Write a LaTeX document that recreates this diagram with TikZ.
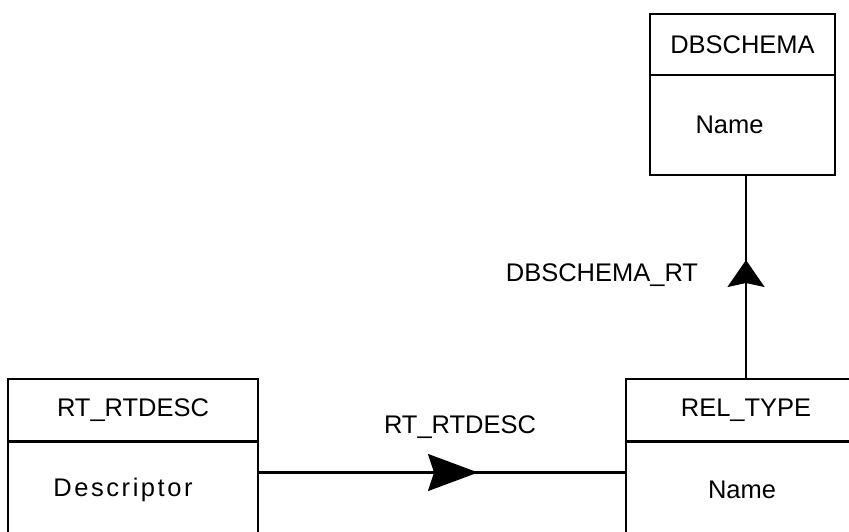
\documentclass[tikz,border=0pt]{standalone}
\usepackage{fontspec}
\setmainfont{Liberation Sans}
\usetikzlibrary{arrows.meta,positioning,calc,decorations.markings}

\begin{document}
\begin{tikzpicture}[
    font=\fontsize{14.5}{17}\selectfont,
    box/.style={draw, line width=1.3pt, inner sep=0pt, outer sep=0pt, minimum width=#1},
    link/.style={line width=1.3pt},
]
    \useasboundingbox (0,0) rectangle (16.98,10.62);
    \clip (0,0) rectangle (16.98,10.62);

    % Schema entity
    \node[box=3.7cm, minimum height=1.22cm] (dbtitle) at (14.85,9.73) {DBSCHEMA};
    \node[box=3.7cm, minimum height=2cm, below=0pt of dbtitle] (dbbody) {};
    \node[xshift=-0.26cm] (dbname) at (dbbody) {Name};

    % Descriptor entity (runs off the bottom)
    \node[box=5cm, minimum height=1.25cm] (desctitle) at (2.66,2.415) {RT\_RTDESC};
    \node[box=5cm, minimum height=1.92cm, below=0pt of desctitle] (descbody) {};
    \node[xshift=-0.2cm] (descname) at (descbody) {\addfontfeature{LetterSpace=10}Descriptor};

    % Relation type entity (runs off the right)
    \node[box=4.8cm, minimum height=1.25cm] (reltitle) at (14.92,2.415) {REL\_TYPE};
    \node[box=4.8cm, minimum height=1.92cm, below=0pt of reltitle] (relbody) {};
    \node[xshift=-0.08cm] (relname) at (relbody) {Name};

    % RT_RTDESC link
    \draw[link, postaction={decorate}, decoration={markings,
        mark=at position 4.4cm with {\arrow{Stealth[length=1cm, width=0.74cm, inset=0.12cm]}}}]
        ($(descbody.north east)+(0,-0.62)$) -- ($(relbody.north west)+(0,-0.62)$);
    \node at (9.2,2.08) {RT\_RTDESC};

    % DBSCHEMA_RT link
    \draw[link, postaction={decorate}, decoration={markings,
        mark=at position 2.38cm with {\arrow{Stealth[length=0.54cm, width=0.74cm, inset=0.08cm]}}}]
        (reltitle.north) -- (reltitle.north |- dbbody.south);
    \node at (12.04,5.12) {DBSCHEMA\_RT};
\end{tikzpicture}
\end{document}
